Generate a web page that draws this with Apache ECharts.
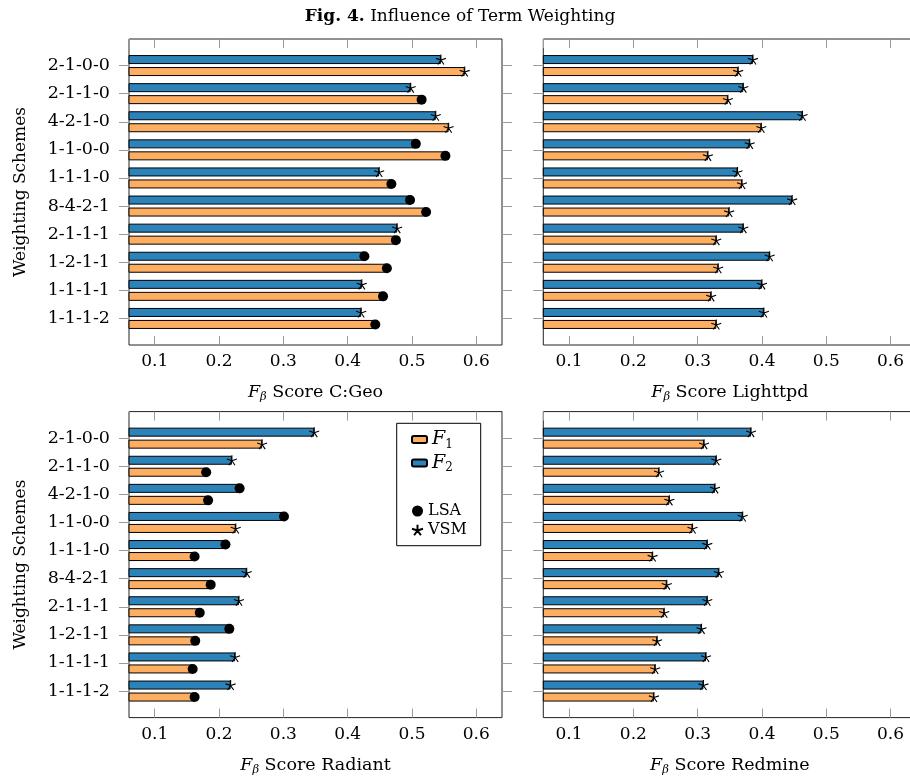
<!DOCTYPE html>
<html><head><meta charset="utf-8">
<script src="https://cdn.jsdelivr.net/npm/echarts@6/dist/echarts.min.js"></script>
<style>html,body{margin:0;padding:0;background:#fff;overflow:hidden;width:910px;height:779px}#c{width:940px;height:779px}</style>
</head><body><div id="c"></div>
<script>
// ---- data ----
const categories = ['2-1-0-0','2-1-1-0','4-2-1-0','1-1-0-0','1-1-1-0','8-4-2-1','2-1-1-1','1-2-1-1','1-1-1-1','1-1-1-2'];
const seriesNames = ['F1', 'F2'];
const markerNames = ['LSA', 'VSM'];
const panelTitles = ['C:Geo', 'Lighttpd', 'Radiant', 'Redmine'];

const cgeoF2 = [0.545, 0.498, 0.537, 0.506, 0.449, 0.497, 0.477, 0.426, 0.422, 0.421];
const cgeoF1 = [0.582, 0.515, 0.557, 0.552, 0.468, 0.522, 0.475, 0.461, 0.455, 0.443];
const cgeoF2Method = ['VSM','VSM','VSM','LSA','VSM','LSA','VSM','LSA','VSM','VSM'];
const cgeoF1Method = ['VSM','LSA','VSM','LSA','LSA','LSA','LSA','LSA','LSA','LSA'];

const lighttpdF2 = [0.386, 0.371, 0.463, 0.381, 0.362, 0.447, 0.371, 0.412, 0.400, 0.403];
const lighttpdF1 = [0.363, 0.347, 0.399, 0.316, 0.369, 0.349, 0.329, 0.332, 0.321, 0.329];
const lighttpdF2Method = ['VSM','VSM','VSM','VSM','VSM','VSM','VSM','VSM','VSM','VSM'];
const lighttpdF1Method = ['VSM','VSM','VSM','VSM','VSM','VSM','VSM','VSM','VSM','VSM'];

const radiantF2 = [0.348, 0.220, 0.232, 0.301, 0.210, 0.243, 0.231, 0.216, 0.225, 0.218];
const radiantF1 = [0.267, 0.180, 0.183, 0.226, 0.162, 0.187, 0.170, 0.163, 0.159, 0.162];
const radiantF2Method = ['VSM','VSM','LSA','LSA','LSA','VSM','VSM','LSA','VSM','VSM'];
const radiantF1Method = ['VSM','LSA','LSA','VSM','LSA','LSA','LSA','LSA','LSA','LSA'];

const redmineF2 = [0.383, 0.329, 0.327, 0.370, 0.315, 0.333, 0.315, 0.306, 0.313, 0.309];
const redmineF1 = [0.310, 0.240, 0.256, 0.292, 0.230, 0.252, 0.248, 0.237, 0.234, 0.232];
const redmineF2Method = ['VSM','VSM','VSM','VSM','VSM','VSM','VSM','VSM','VSM','VSM'];
const redmineF1Method = ['VSM','VSM','VSM','VSM','VSM','VSM','VSM','VSM','VSM','VSM'];

const xMin = 0.06, xMax = 0.64;

// ---- layout / style ----
const FONT = 'DejaVu Serif';
const BLUE = '#2b83ba', ORANGE = '#fdae61';
const STAR = 'path://M0,-10L0,0M9.51,-3.09L0,0M5.88,8.09L0,0M-5.88,8.09L0,0M-9.51,-3.09L0,0';
const FRAME_W = 373, FRAME_H = 306, INSET = 12.5;
const layout = [
  {left: 129, top: 39, ylabels: true},
  {left: 543.3, top: 39, ylabels: false},
  {left: 129, top: 411.6, ylabels: true},
  {left: 543.3, top: 411.6, ylabels: false}
];
const panelData = [
  [cgeoF1, cgeoF2, cgeoF1Method, cgeoF2Method],
  [lighttpdF1, lighttpdF2, lighttpdF1Method, lighttpdF2Method],
  [radiantF1, radiantF2, radiantF1Method, radiantF2Method],
  [redmineF1, redmineF2, redmineF1Method, redmineF2Method]
];

const grid = [], xAxis = [], yAxis = [], series = [];
const tickGray = '#9a9a9a';
const richName = {
  i: {fontFamily: FONT, fontSize: 17.5, fontStyle: 'italic', color: '#000'},
  s: {fontFamily: FONT, fontSize: 11.5, fontStyle: 'italic', color: '#000', padding: [9, 0, 0, 0]}
};

layout.forEach((L, k) => {
  // frame grid
  const fg = grid.length;
  grid.push({left: L.left, top: L.top, width: FRAME_W, height: FRAME_H, show: true,
    borderColor: '#222', borderWidth: 1, backgroundColor: 'transparent', containLabel: false});
  xAxis.push({gridIndex: fg, type: 'value', show: false, min: 0, max: 1});
  yAxis.push({gridIndex: fg, type: 'value', show: false, min: 0, max: 1});
  // main grid
  const mg = grid.length;
  grid.push({left: L.left, top: L.top + INSET, width: FRAME_W, height: FRAME_H - 2 * INSET, containLabel: false});
  const xb = xAxis.length;
  xAxis.push({gridIndex: mg, type: 'value', position: 'bottom', offset: INSET, min: xMin, max: xMax,
    splitNumber: 6, minInterval: 0.1, maxInterval: 0.1,
    axisLine: {show: false}, splitLine: {show: false},
    axisTick: {show: true, inside: true, length: 9, lineStyle: {color: tickGray}},
    axisLabel: {show: true, margin: 8, showMinLabel: false, showMaxLabel: false,
      fontFamily: FONT, fontSize: 17, color: '#000', formatter: v => v.toFixed(1)},
    name: '{i|F}{s|β} Score ' + panelTitles[k], nameLocation: 'middle', nameGap: 37,
    nameTextStyle: {fontFamily: FONT, fontSize: 17.5, color: '#000', rich: richName}
  });
  xAxis.push({gridIndex: mg, type: 'value', position: 'top', offset: INSET, min: xMin, max: xMax,
    splitNumber: 6, minInterval: 0.1, maxInterval: 0.1,
    axisLine: {show: false}, splitLine: {show: false}, axisLabel: {show: false},
    axisTick: {show: true, inside: true, length: 9, lineStyle: {color: tickGray}}
  });
  const yl = yAxis.length;
  yAxis.push({gridIndex: mg, type: 'category', position: 'left', inverse: true, data: categories,
    axisLine: {show: false},
    axisTick: {show: true, inside: false, length: 10, alignWithLabel: true, lineStyle: {color: tickGray}},
    axisLabel: {show: L.ylabels, margin: 19, fontFamily: FONT, fontSize: 17.5, color: '#000'},
    name: L.ylabels ? 'Weighting Schemes' : '', nameLocation: 'middle', nameGap: 100,
    nameTextStyle: {fontFamily: FONT, fontSize: 17, color: '#000'}
  });
  yAxis.push({gridIndex: mg, type: 'category', position: 'right', inverse: true, data: categories,
    axisLine: {show: false}, axisLabel: {show: false},
    axisTick: {show: true, inside: false, length: 10, alignWithLabel: true, lineStyle: {color: tickGray}}
  });

  const [f1, f2, m1, m2] = panelData[k];
  const barCommon = {type: 'bar', xAxisIndex: xb, yAxisIndex: yl, barWidth: 9, barGap: '33.3%',
    clip: true, z: 2};
  series.push(Object.assign({name: seriesNames[1], data: f2,
    itemStyle: {color: BLUE, borderColor: '#000', borderWidth: 1}}, barCommon));
  series.push(Object.assign({name: seriesNames[0], data: f1,
    itemStyle: {color: ORANGE, borderColor: '#000', borderWidth: 1}}, barCommon));

  const pts = (vals, meth, key) => vals.map((v, i) => meth[i] === key ? [v, i] : null).filter(p => p);
  [[f2, m2, -6], [f1, m1, 6]].forEach(([vals, meth, off]) => {
    series.push({type: 'scatter', name: 'LSA', xAxisIndex: xb, yAxisIndex: yl, z: 5,
      symbol: 'circle', symbolSize: 10, symbolOffset: [0, off],
      itemStyle: {color: '#000', opacity: 1}, data: pts(vals, meth, 'LSA')});
    series.push({type: 'scatter', name: 'VSM', xAxisIndex: xb, yAxisIndex: yl, z: 5,
      symbol: STAR, symbolSize: 10, symbolOffset: [0, off],
      itemStyle: {color: '#000', borderColor: '#000', borderWidth: 1.1, opacity: 1}, data: pts(vals, meth, 'VSM')});
  });
});

// legend box grid
const lg = grid.length;
grid.push({left: 396.7, top: 423.3, width: 84, height: 122.4, show: true, borderColor: '#000',
  borderWidth: 1, backgroundColor: '#fff', z: 1});
xAxis.push({gridIndex: lg, type: 'value', show: false});
yAxis.push({gridIndex: lg, type: 'value', show: false});

const option = {
  animation: false,
  backgroundColor: '#fff',
  title: {
    text: '{b|Fig. 4.} Influence of Term Weighting', left: 455, textAlign: 'center', top: 3,
    textStyle: {fontFamily: FONT, fontSize: 17, fontWeight: 'normal', color: '#000',
      rich: {b: {fontFamily: FONT, fontSize: 17, fontWeight: 'bold', color: '#000'}}}
  },
  legend: [
    {data: seriesNames, orient: 'vertical', left: 406, top: 425, itemWidth: 15, itemHeight: 7,
      itemGap: 3, selectedMode: false, z: 6,
      formatter: n => '{i|F}{s|' + n.slice(1) + '}',
      textStyle: {fontFamily: FONT, fontSize: 17, color: '#000', rich: {
        i: {fontFamily: FONT, fontSize: 19, fontStyle: 'italic', color: '#000'},
        s: {fontFamily: FONT, fontSize: 12, color: '#000', padding: [10, 0, 0, 0]}}}},
    {data: markerNames, orient: 'vertical', left: 406, top: 498, itemWidth: 11, itemHeight: 11,
      itemGap: 3, selectedMode: false, z: 6,
      textStyle: {fontFamily: FONT, fontSize: 16, color: '#000'}}
  ],
  grid, xAxis, yAxis, series
};
const chart = echarts.init(document.getElementById('c'), null, {renderer: 'canvas'});
chart.setOption(option);
</script>
</body></html>
